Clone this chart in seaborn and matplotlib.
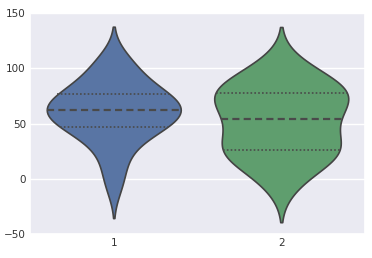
import matplotlib
matplotlib.use("Agg")
import matplotlib.pyplot as plt
import seaborn as sns
import pandas as pd
import numpy as np

group1 = [-8, 6, 18, 28, 35, 41, 45, 47, 47, 50, 53, 56, 58, 60, 61,
          63, 64, 66, 68, 70, 72, 74, 77, 80, 83, 87, 92, 98, 105, 110]
group2 = [-8, 2, 10, 15, 19, 22, 24, 26, 27, 30, 35, 40, 45, 49, 52,
          57, 60, 64, 68, 71, 74, 77, 78, 80, 82, 84, 88, 93, 99, 106]
labels = ["1", "2"]
colors = ["#4C72B0", "#55A868"]

df = pd.DataFrame({
    "group": [labels[0]] * len(group1) + [labels[1]] * len(group2),
    "value": group1 + group2,
})

sns.set_theme(style="darkgrid")
plt.rcParams["font.family"] = ["DejaVu Sans"]

fig = plt.figure(figsize=(3.72, 2.58), dpi=100)
ax = fig.add_axes([30 / 372, 24 / 258, 335 / 372, 221 / 258])
sns.violinplot(data=df, x="group", y="value", hue="group", palette=colors,
               inner="quart", linewidth=1.2, linecolor="#444444", ax=ax,
               legend=False, saturation=0.75)

# quartile lines: group per violin, middle in y is the median
groups = {}
for ln in ax.lines:
    xd = np.asarray(ln.get_xdata(), float)
    groups.setdefault(int(round(xd.mean())), []).append(ln)
for key, lns in groups.items():
    lns.sort(key=lambda l: float(np.asarray(l.get_ydata())[0]))
    for j, ln in enumerate(lns):
        ln.set_color("#4a4a4a")
        ln.set_dash_capstyle("butt")
        if j == 1:
            ln.set_linewidth(1.6)
            ln.set_dashes((3.2, 1.9))
        else:
            ln.set_linewidth(1.2)
            ln.set_dashes((1.0, 1.3))
        ln.set_zorder(5)

ax.set_ylim(-50, 150)
ax.set_yticks([-50, 0, 50, 100, 150])
ax.set_xlabel("")
ax.set_ylabel("")
ax.tick_params(labelsize=7.5, colors="#333333", pad=3, length=0)
ax.grid(axis="x", visible=False)
fig.savefig("out.png", dpi=100)
